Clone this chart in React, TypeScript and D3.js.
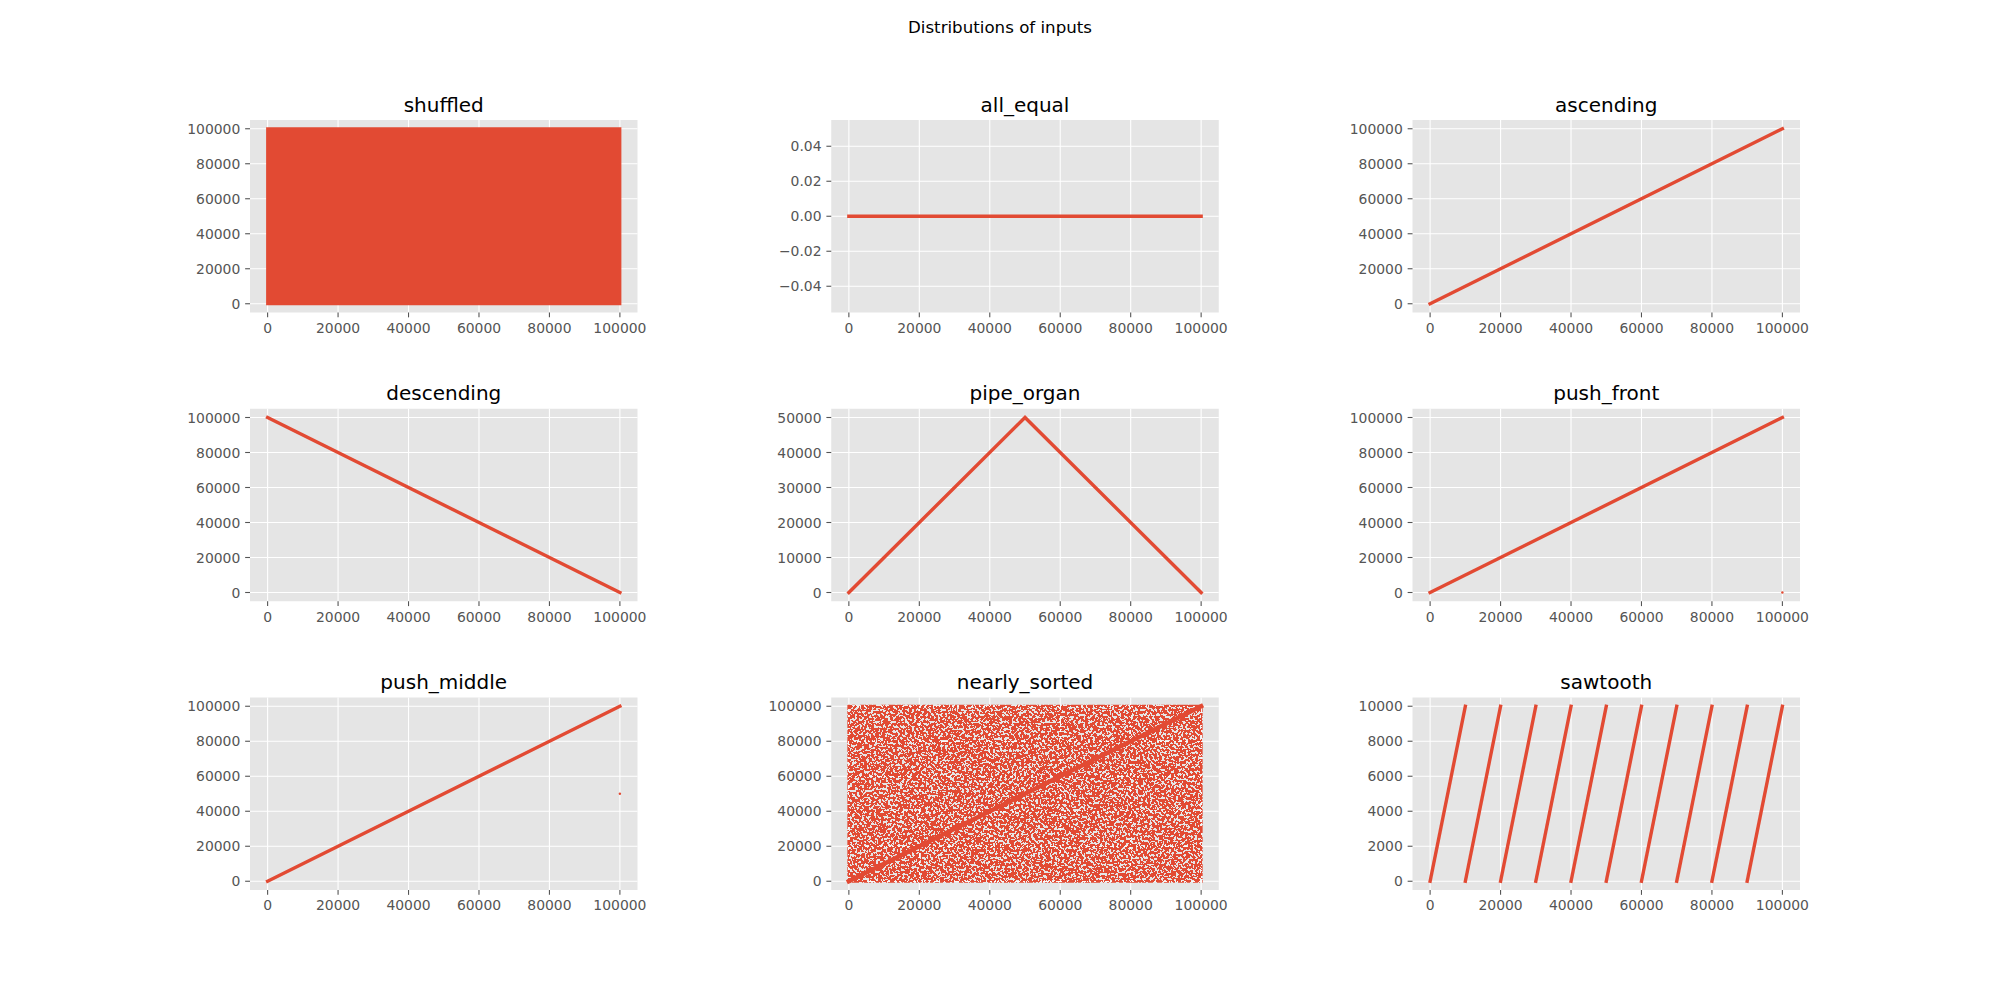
import * as d3 from "d3";

// figure layout (matplotlib-like: 20x10in @100dpi, wspace = hspace = 0.5)
const W = 2000;
const H = 1000;
const LEFT = 250;
const TOP = 120;
const AX_W = 387.5;
const AX_H = 192.5;
const GAP_X = 193.75;
const GAP_Y = 96.25;

const RED = "#E24A33";
const BG = "#E5E5E5";
const TICK = "#555555";
const FONT = "'DejaVu Sans', sans-serif";

const suptitle = "Distributions of inputs";
const titles = [
  "shuffled", "all_equal", "ascending",
  "descending", "pipe_organ", "push_front",
  "push_middle", "nearly_sorted", "sawtooth",
];

const xTicks = [0, 20000, 40000, 60000, 80000, 100000];
const bigTicks = [0, 20000, 40000, 60000, 80000, 100000];
const organTicks = [0, 10000, 20000, 30000, 40000, 50000];
const sawTicks = [0, 2000, 4000, 6000, 8000, 10000];
const equalTicks = [-0.04, -0.02, 0, 0.02, 0.04];
const equalLabels = ["\u22120.04", "\u22120.02", "0.00", "0.02", "0.04"];

// index range of every input
const indexRange = [0, 99999];

// line-shaped series (vertices)
const allEqualX = [0, 99999];
const allEqualY = [0, 0];
const ascendingX = [0, 99999];
const ascendingY = [0, 99999];
const descendingX = [0, 99999];
const descendingY = [99999, 0];
const pipeOrganX = [0, 50000, 99999];
const pipeOrganY = [0, 49999, 0];
const pushFrontX = [0, 99998];
const pushFrontY = [1, 99999];
const pushFrontLastX = [99999];
const pushFrontLastY = [0];
const pushMiddleX = [0, 99998];
const pushMiddleY = [0, 99999];
const pushMiddleLastX = [99999];
const pushMiddleLastY = [50000];
const nearlySortedX = [0, 99999];
const nearlySortedY = [0, 99999];
const sawtoothStarts = [0, 10000, 20000, 30000, 40000, 50000, 60000, 70000, 80000, 90000];
const sawtoothEnds = [9999, 19999, 29999, 39999, 49999, 59999, 69999, 79999, 89999, 99999];
const sawtoothY = [0, 9999];

// scattered clouds: value extent (the dots themselves are drawn as a speckle texture)
const shuffledY = [0, 99999];
const nearlySortedCloudY = [0, 99999];

type Line = { xs: number[]; ys: number[] };
type Dot = { x: number; y: number };
type Cloud = { x: number[]; y: number[]; filter: string };
type Panel = {
  title: string;
  yDomain: [number, number];
  yTicks: number[];
  yLabels: string[];
  lines: Line[];
  dots: Dot[];
  cloud?: Cloud;
  lineWidth?: number;
};

const pad = (ext: number[]): [number, number] => {
  const [a, b] = d3.extent(ext) as [number, number];
  const m = (b - a) * 0.05;
  return [a - m, b + m];
};
const fmt = (v: number) => String(v);

const panels: Panel[] = [
  {
    title: titles[0], yDomain: pad(shuffledY), yTicks: bigTicks, yLabels: bigTicks.map(fmt),
    lines: [], dots: [], cloud: { x: indexRange, y: shuffledY, filter: "dense" },
  },
  {
    title: titles[1], yDomain: [-0.055, 0.055], yTicks: equalTicks, yLabels: equalLabels,
    lines: [{ xs: allEqualX, ys: allEqualY }], dots: [],
  },
  {
    title: titles[2], yDomain: pad(ascendingY), yTicks: bigTicks, yLabels: bigTicks.map(fmt),
    lines: [{ xs: ascendingX, ys: ascendingY }], dots: [],
  },
  {
    title: titles[3], yDomain: pad(descendingY), yTicks: bigTicks, yLabels: bigTicks.map(fmt),
    lines: [{ xs: descendingX, ys: descendingY }], dots: [],
  },
  {
    title: titles[4], yDomain: pad(pipeOrganY), yTicks: organTicks, yLabels: organTicks.map(fmt),
    lines: [{ xs: pipeOrganX, ys: pipeOrganY }], dots: [],
  },
  {
    title: titles[5], yDomain: pad(pushFrontY.concat(pushFrontLastY)), yTicks: bigTicks, yLabels: bigTicks.map(fmt),
    lines: [{ xs: pushFrontX, ys: pushFrontY }],
    dots: pushFrontLastX.map((x, i) => ({ x, y: pushFrontLastY[i] })),
  },
  {
    title: titles[6], yDomain: pad(pushMiddleY), yTicks: bigTicks, yLabels: bigTicks.map(fmt),
    lines: [{ xs: pushMiddleX, ys: pushMiddleY }],
    dots: pushMiddleLastX.map((x, i) => ({ x, y: pushMiddleLastY[i] })),
  },
  {
    title: titles[7], yDomain: pad(nearlySortedCloudY), yTicks: bigTicks, yLabels: bigTicks.map(fmt),
    lines: [{ xs: nearlySortedX, ys: nearlySortedY }], dots: [],
    cloud: { x: indexRange, y: nearlySortedCloudY, filter: "sparse" }, lineWidth: 4.5,
  },
  {
    title: titles[8], yDomain: pad(sawtoothY), yTicks: sawTicks, yLabels: sawTicks.map(fmt),
    lines: sawtoothStarts.map((s, i) => ({ xs: [s, sawtoothEnds[i]], ys: sawtoothY })), dots: [],
  },
];

function Speckle({ id, table, freq }: { id: string; table: string; freq: number }) {
  return (
    <filter id={id} x="-1%" y="-1%" width="102%" height="102%" colorInterpolationFilters="sRGB">
      <feTurbulence type="fractalNoise" baseFrequency={freq} numOctaves={3} seed={7} result="n" />
      <feColorMatrix in="n" type="matrix"
        values="0 0 0 0 0.886  0 0 0 0 0.290  0 0 0 0 0.200  1 0 0 0 0" result="a" />
      <feComponentTransfer in="a" result="t">
        <feFuncA type="discrete" tableValues={table} />
      </feComponentTransfer>
      <feComposite in="t" in2="SourceGraphic" operator="in" />
    </filter>
  );
}

function Axes({ p, i }: { p: Panel; i: number }) {
  const col = i % 3;
  const row = Math.floor(i / 3);
  const x0 = LEFT + col * (AX_W + GAP_X);
  const y0 = TOP + row * (AX_H + GAP_Y);
  const x = d3.scaleLinear().domain(pad(indexRange)).range([0, AX_W]);
  const y = d3.scaleLinear().domain(p.yDomain).range([AX_H, 0]);
  const path = (l: Line) =>
    d3.line<number>()
      .x((v) => x(v))
      .y((_, k) => y(l.ys[k]))(l.xs) || "";
  return (
    <g transform={`translate(${x0},${y0})`}>
      <rect width={AX_W} height={AX_H} fill={BG} />
      {xTicks.map((t) => (
        <line key={"gx" + t} x1={x(t)} x2={x(t)} y1={0} y2={AX_H} stroke="#fff" strokeWidth={1.1} />
      ))}
      {p.yTicks.map((t) => (
        <line key={"gy" + t} x1={0} x2={AX_W} y1={y(t)} y2={y(t)} stroke="#fff" strokeWidth={1.1} />
      ))}
      {p.cloud && (
        <rect
          x={x(p.cloud.x[0]) - 1.5}
          y={y(p.cloud.y[1]) - 1.5}
          width={x(p.cloud.x[1]) - x(p.cloud.x[0]) + 3}
          height={y(p.cloud.y[0]) - y(p.cloud.y[1]) + 3}
          fill={RED}
          filter={`url(#${p.cloud.filter})`}
        />
      )}
      {p.lines.map((l, k) => (
        <path key={"l" + k} d={path(l)} fill="none" stroke={RED} strokeWidth={p.lineWidth ?? 3.4} strokeLinecap="square" />
      ))}
      {p.dots.map((d, k) => (
        <circle key={"d" + k} cx={x(d.x)} cy={y(d.y)} r={1.2} fill={RED} />
      ))}
      {xTicks.map((t) => (
        <g key={"tx" + t} transform={`translate(${x(t)},${AX_H})`}>
          <line y1={0} y2={4.86} stroke={TICK} strokeWidth={1.1} />
          <text y={9.72} dy="0.76em" textAnchor="middle" fill={TICK} fontSize={13.9} fontFamily={FONT}>
            {fmt(t)}
          </text>
        </g>
      ))}
      {p.yTicks.map((t, k) => (
        <g key={"ty" + t} transform={`translate(0,${y(t)})`}>
          <line x1={0} x2={-4.86} stroke={TICK} strokeWidth={1.1} />
          <text x={-9.72} dy="0.36em" textAnchor="end" fill={TICK} fontSize={13.9} fontFamily={FONT}>
            {p.yLabels[k]}
          </text>
        </g>
      ))}
      <text x={AX_W / 2} y={-8.33} textAnchor="middle" fontSize={20} fontFamily={FONT} fill="#000">
        {p.title}
      </text>
    </g>
  );
}

export default function App() {
  return (
    <svg
      width={W}
      height={H}
      viewBox={`0 0 ${W} ${H}`}
      style={{ position: "absolute", left: 0, top: 0, background: "#fff" }}
    >
      <defs>
        <Speckle id="dense" freq={0.9} table="0 1 1 1 1 1 1 1 1 1 1 1 1 1 1 1 1 1 1 1" />
        <Speckle id="sparse" freq={0.42} table="0 0 0 0 0 0 0 0 0 1 1 1 1 1 1 1 1 1 1 1" />
      </defs>
      <rect width={W} height={H} fill="#fff" />
      <text x={W / 2} y={32.5} textAnchor="middle" fontSize={16.67} fontFamily={FONT} fill="#000">
        {suptitle}
      </text>
      {panels.map((p, i) => (
        <Axes key={p.title} p={p} i={i} />
      ))}
    </svg>
  );
}
